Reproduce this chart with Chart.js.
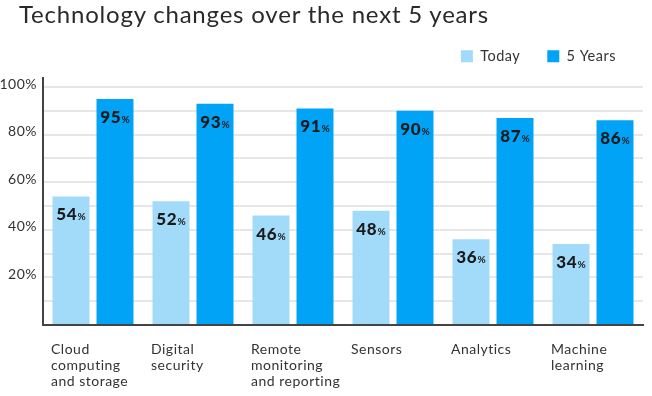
<!DOCTYPE html>
<html>
<head>
<meta charset="utf-8">
<script src="https://cdn.jsdelivr.net/npm/chart.js@4.4.1/dist/chart.umd.min.js"></script>
<style>
  body { margin: 0; background: #fff; }
  #wrap { position: relative; width: 652px; height: 396px; }
  #title {
    position: absolute; left: 19px; top: 0; margin: 0;
    font: normal 24px/28px Lato, sans-serif; letter-spacing: 0.8px;
    color: #2a2a2a; white-space: nowrap;
  }
</style>
</head>
<body>
<div id="wrap">
  <canvas id="barChart" width="652" height="396"></canvas>
  <h1 id="title">Technology changes over the next 5 years</h1>
</div>
<script>
const CHART = document.getElementById("barChart");

let categories = [
    ['Cloud', 'computing', 'and storage'],
    ['Digital', 'security'],
    ['Remote', 'monitoring', 'and reporting'],
    ['Sensors'],
    ['Analytics'],
    ['Machine', 'learning']
]
let todayValues = [54, 52, 46, 48, 36, 34]
let fiveYearValues = [95, 93, 91, 90, 87, 86]
let yTicks = [0, 10, 20, 30, 40, 50, 60, 70, 80, 90, 100]

const FONT = "Lato, 'Open Sans', sans-serif";

// the reference font runs a bit wider than Lato
const spacing = {
    id: 'spacing',
    beforeUpdate(chart) { chart.ctx.letterSpacing = '0.5px'; },
    beforeDraw(chart) { chart.ctx.letterSpacing = '0.5px'; }
};

// bold number + small % inside the top of each bar
const barLabels = {
    id: 'barLabels',
    afterDatasetsDraw(chart) {
        const ctx = chart.ctx;
        ctx.save();
        ctx.fillStyle = '#1a1a1a';
        ctx.textBaseline = 'alphabetic';
        ctx.textAlign = 'left';
        chart.data.datasets.forEach((ds, i) => {
            chart.getDatasetMeta(i).data.forEach((bar, j) => {
                const num = String(ds.data[j]);
                ctx.font = "900 17px " + FONT;
                const w1 = ctx.measureText(num).width;
                ctx.font = "bold 10px " + FONT;
                const w2 = ctx.measureText('%').width;
                const x0 = bar.x - (w1 + w2) / 2;
                const y = bar.y + 24;
                ctx.font = "900 17px " + FONT;
                ctx.fillText(num, x0, y);
                ctx.font = "bold 10px " + FONT;
                ctx.fillText('%', x0 + w1 + 0.5, y);
            });
        });
        ctx.restore();
    }
};

let barChart = new Chart(CHART, {
    type: 'bar',
    data: {
        labels: categories,
        datasets: [{
            label: 'Today',
            data: todayValues,
            backgroundColor: '#a2dbfa',
            categoryPercentage: 0.88,
            barPercentage: 0.84
        }, {
            label: '5 Years',
            data: fiveYearValues,
            backgroundColor: '#00a3f5',
            categoryPercentage: 0.88,
            barPercentage: 0.84
        }]
    },
    options: {
        responsive: false,
        animation: false,
        devicePixelRatio: 1,
        layout: { padding: { left: 0, right: 9, top: 22, bottom: 0 } },
        plugins: {
            title: { display: false },
            legend: {
                position: 'top',
                align: 'end',
                labels: {
                    color: '#333',
                    font: { family: FONT, size: 14.5 },
                    boxWidth: 12,
                    boxHeight: 12,
                    padding: 27
                }
            },
            tooltip: { enabled: false }
        },
        scales: {
            x: {
                grid: { display: false },
                border: { display: true, color: '#444', width: 2 },
                afterFit: (scale) => {
                    scale.height = 71;
                    scale.paddingLeft = 0;
                    scale.paddingRight = 0;
                },
                ticks: {
                    color: '#333',
                    font: { family: FONT, size: 14, lineHeight: 1.15 },
                    align: 'start',
                    labelOffset: -42,
                    padding: 8,
                    maxRotation: 0,
                    autoSkip: false
                }
            },
            y: {
                min: 0,
                max: 104,
                afterBuildTicks: (scale) => {
                    scale.ticks = yTicks.map(v => ({ value: v }));
                },
                afterFit: (scale) => { scale.width = 43; },
                grid: { color: '#e6e6e6', lineWidth: 2, drawTicks: false },
                border: { display: true, color: '#444', width: 2 },
                ticks: {
                    color: '#333',
                    font: { family: FONT, size: 14 },
                    padding: 6,
                    labelOffset: -3,
                    callback: (v) => (v > 0 && v % 20 === 0) ? v + '%' : ''
                }
            }
        }
    },
    plugins: [spacing, barLabels]
})

// a little more room between the legend and the plot
const legendFit = barChart.legend.fit;
barChart.legend.fit = function () {
    legendFit.call(this);
    this.height += 4;
};
barChart.update();
</script>
</body>
</html>
